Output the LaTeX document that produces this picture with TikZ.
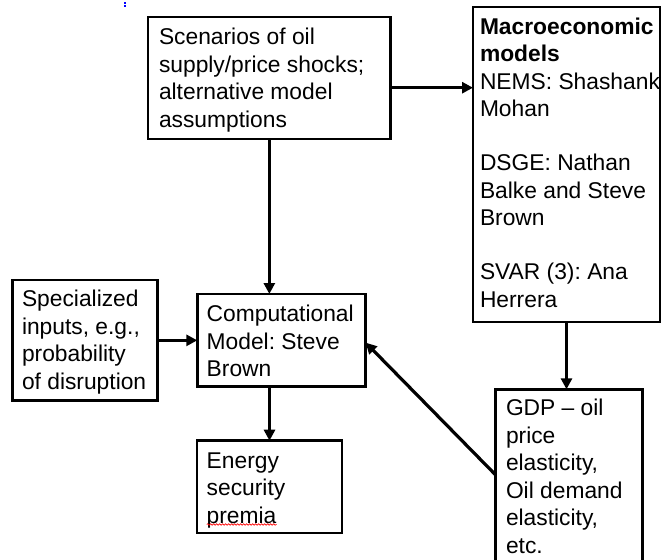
\documentclass[tikz,border=0pt]{standalone}
\usepackage{fontspec}
\setmainfont{Liberation Sans}
\usetikzlibrary{arrows.meta,decorations.pathmorphing}
\frenchspacing
\begin{document}
\begin{tikzpicture}[x=1pt,y=-1pt,
  boxnode/.style={draw=black,line width=2.6pt,inner sep=0pt,outer sep=0pt,anchor=north west},
  txt/.style={inner sep=0pt,outer sep=0pt,anchor=north west,align=left,font=\fontsize{22.8}{27.5}\selectfont},
  arr/.style={line width=3.2pt,-{Triangle[length=11pt,width=11pt]}}
]
\useasboundingbox (0,0) rectangle (662,560);
\fill[white] (0,0) rectangle (662,560);
\clip (0,0) rectangle (662,560);

% tiny blue mark
\fill[blue] (124.4,2) rectangle (126,3.6);
\fill[blue] (124.4,5) rectangle (126,6.6);

% boxes
\node[boxnode,minimum width=242.7pt,minimum height=122pt] (scen) at (148,17) {};
\node[boxnode,minimum width=187pt,minimum height=315pt] (macro) at (473,7) {};
\node[boxnode,minimum width=145pt,minimum height=120.7pt] (spec) at (12.7,280) {};
\node[boxnode,minimum width=168.4pt,minimum height=92.7pt] (comp) at (197.3,294) {};
\node[boxnode,minimum width=145pt,minimum height=92.3pt] (energy) at (197,440.7) {};
\node[boxnode,minimum width=147pt,minimum height=190pt] (gdp) at (495.7,389.3) {};

% texts
\node[txt] (scentxt) at (159,28) {Scenarios of oil\\supply/price shocks;\\alternative model\\assumptions};
\node[txt] (macrotxt) at (480,17.5) {{\bfseries Macroeconomic}\\{\bfseries models}\\NEMS: Shashank\\Mohan\\[26.5pt]DSGE: Nathan\\Balke and Steve\\Brown\\[26.5pt]SVAR (3): Ana\\Herrera};
\node[txt] (spectxt) at (22,290) {Specialized\\inputs, e.g.,\\probability\\of disruption};
\node[txt] (comptxt) at (206.7,305) {Computational\\Model: Steve\\Brown};
\node[txt] (energytxt) at (206.7,452.7) {Energy\\security\\premia};
\node[txt] (gdptxt) at (506,399.3) {GDP – oil\\price\\elasticity,\\Oil demand\\elasticity,\\etc.};

% spell-check underline
\coordinate (wavyA) at (206.7,524.5);
\coordinate (wavyB) at (276.7,524.5);
\draw[red,line width=0.6pt,decorate,decoration={snake,amplitude=0.8pt,segment length=3pt}] (wavyA) -- (wavyB);

% connectors
\draw[arr] ([yshift=-9.7pt]scen.east) -- ([yshift=-9.7pt]scen.east -| macro.west);
\draw[arr] (scen.south) -- (scen.south |- comp.north);
\draw[arr] (spec.east) -- (spec.east -| comp.west);
\draw[arr] (energy.north |- comp.south) -- (energy.north);
\draw[arr] (macro.south) -- (macro.south |- gdp.north);
\draw[arr] ([yshift=9.3pt]gdp.west) -- ([yshift=-2.3pt]comp.east);
\end{tikzpicture}
\end{document}
